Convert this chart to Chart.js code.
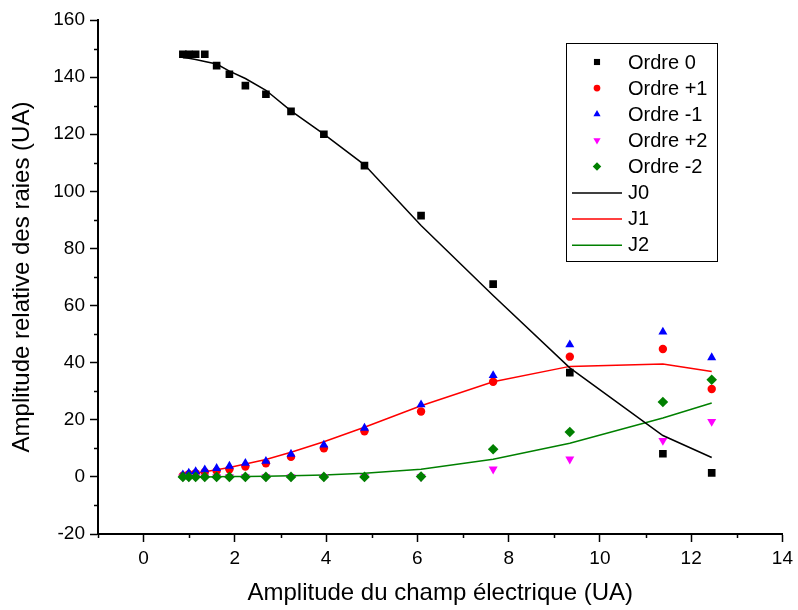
<!DOCTYPE html>
<html>
<head>
<meta charset="utf-8">
<script src="https://cdn.jsdelivr.net/npm/chart.js@4.4.1/dist/chart.umd.min.js"></script>
<style>
  html, body { margin: 0; padding: 0; background: #fff; }
</style>
</head>
<body>
<canvas id="chart" width="798" height="610"></canvas>
<script>
// field amplitude (x) shared by all series
const fieldAmp = [0.86, 0.99, 1.14, 1.34, 1.60, 1.88, 2.23, 2.68, 3.23, 3.95, 4.84, 6.08, 7.66, 9.34, 11.38, 12.45];

// measured line amplitudes
const order0  = [148, 148, 148, 148, 144, 141, 137, 134, 128, 120, 109, 91.5, 67.5, 36.5, 8.1, 1.4];
const orderP1 = [0.4, 0.9, 1.3, 1.7, 2.1, 2.7, 3.6, 4.8, 7.0, 10.0, 16.0, 22.9, 33.3, 42.1, 44.8, 30.8];
const orderM1 = [0.8, 1.4, 1.9, 2.5, 3.0, 3.8, 4.8, 5.5, 8.0, 11.2, 17.1, 25.3, 35.5, 46.3, 50.8, 41.8];
const orderP2 = [0, 0, 0, 0, 0, 0, 0, 0, 0, 0, 0, 0, 2.7, 6.2, 12.7, 19.4];
const orderM2 = [0, 0, 0, 0, 0, 0, 0, 0, 0, 0, 0, 0.1, 9.7, 15.7, 26.2, 34.0];

// fitted Bessel curves
const j0 = [146.8, 146.6, 146.2, 145.5, 144.6, 142.1, 139.5, 135.4, 128.2, 120.0, 109.3, 88.0, 63.5, 38.2, 14.5, 6.8];
const j1 = [0.6, 0.9, 1.3, 1.8, 2.5, 3.3, 4.5, 6.1, 8.6, 12.3, 17.4, 24.9, 33.3, 38.7, 39.5, 36.9];
const j2 = [0, 0, 0, 0, 0.05, 0.1, 0.15, 0.25, 0.4, 0.7, 1.3, 2.7, 6.2, 11.8, 20.6, 25.9];

const xTicks = { min: -1, max: 14, step: 1, major: 2 };
const yTicks = { min: -20, max: 160, step: 10, major: 20 };

const FONT = "'Liberation Sans', Arial, sans-serif";

const toPoints = ys => ys.map((y, i) => ({ x: fieldAmp[i], y: y }));

function markerSet(label, values, color, style, radius, rotation, order) {
  return {
    label: label,
    data: toPoints(values),
    showLine: false,
    pointStyle: style,
    pointRotation: rotation,
    pointRadius: radius,
    pointHoverRadius: radius,
    pointBackgroundColor: color,
    pointBorderColor: color,
    pointBorderWidth: 0,
    backgroundColor: color,
    borderColor: color,
    order: order
  };
}

function curveSet(label, values, color) {
  return {
    label: label,
    data: toPoints(values),
    showLine: true,
    borderColor: color,
    backgroundColor: color,
    borderWidth: 1.5,
    pointRadius: 0,
    tension: 0,
    fill: false,
    order: 10
  };
}

const datasets = [
  markerSet('Ordre 0', order0, '#000000', 'rect', 5.4, 0, 5),
  markerSet('Ordre +1', orderP1, '#ff0000', 'circle', 4.2, 0, 4),
  markerSet('Ordre -1', orderM1, '#0000ff', 'triangle', 5.2, 0, 3),
  markerSet('Ordre +2', orderP2, '#ff00ff', 'triangle', 5.2, 180, 2),
  markerSet('Ordre -2', orderM2, '#008000', 'rectRot', 5.3, 0, 1),
  curveSet('J0', j0, '#000000'),
  curveSet('J1', j1, '#ff0000'),
  curveSet('J2', j2, '#008000')
];

// minor tick marks (short, no label) drawn after the axes
const minorTicks = {
  id: 'minorTicks',
  afterDraw(chart) {
    const ctx = chart.ctx;
    const xs = chart.scales.x, ys = chart.scales.y;
    ctx.save();
    ctx.strokeStyle = '#000';
    ctx.lineWidth = 1.5;
    ctx.beginPath();
    for (let v = xTicks.min; v <= xTicks.max; v += xTicks.step) {
      if (v % xTicks.major === 0) continue;
      const px = Math.round(xs.getPixelForValue(v)) + 0.5;
      ctx.moveTo(px, xs.top);
      ctx.lineTo(px, xs.top + 4);
    }
    for (let v = yTicks.min; v <= yTicks.max; v += yTicks.step) {
      if (v % yTicks.major === 0) continue;
      const py = Math.round(ys.getPixelForValue(v)) + 0.5;
      ctx.moveTo(ys.right, py);
      ctx.lineTo(ys.right - 4, py);
    }
    ctx.stroke();
    ctx.restore();
  }
};

function drawMarker(ctx, ds, x, y) {
  const r = ds.pointRadius;
  ctx.fillStyle = ds.pointBackgroundColor;
  ctx.beginPath();
  if (ds.pointStyle === 'rect') {
    const s = r * Math.SQRT1_2;
    ctx.rect(x - s, y - s, 2 * s, 2 * s);
  } else if (ds.pointStyle === 'circle') {
    ctx.arc(x, y, r, 0, Math.PI * 2);
  } else if (ds.pointStyle === 'rectRot') {
    ctx.moveTo(x, y - r); ctx.lineTo(x + r, y); ctx.lineTo(x, y + r); ctx.lineTo(x - r, y);
  } else if (ds.pointStyle === 'triangle') {
    const dir = ds.pointRotation === 180 ? -1 : 1;
    const h = r * Math.sqrt(3) / 2;
    ctx.moveTo(x, y - dir * r);
    ctx.lineTo(x + h, y + dir * r / 2);
    ctx.lineTo(x - h, y + dir * r / 2);
  }
  ctx.closePath();
  ctx.fill();
}

// boxed legend in the upper right, Origin style
const boxLegend = {
  id: 'boxLegend',
  afterDraw(chart) {
    const ctx = chart.ctx;
    const left = 566, top = 43, width = 151, height = 218;
    const rowH = 26.1, firstRow = 62;
    ctx.save();
    ctx.strokeStyle = '#000';
    ctx.lineWidth = 1;
    ctx.strokeRect(left + 0.5, top + 0.5, width, height);
    ctx.font = '20px ' + FONT;
    ctx.textBaseline = 'middle';
    ctx.textAlign = 'left';
    chart.data.datasets.forEach((ds, i) => {
      const y = firstRow + i * rowH;
      if (ds.showLine) {
        ctx.strokeStyle = ds.borderColor;
        ctx.lineWidth = 1.5;
        ctx.beginPath();
        ctx.moveTo(572, y + 0.5);
        ctx.lineTo(622, y + 0.5);
        ctx.stroke();
      } else {
        drawMarker(ctx, Object.assign({}, ds, { pointRadius: ds.pointRadius * 0.8 }), 597, y);
      }
      ctx.fillStyle = '#000';
      ctx.fillText(ds.label, 628, y + 1);
    });
    ctx.restore();
  }
};

function majorTickColor(major) {
  return c => (c.tick && c.tick.value % major === 0) ? '#000' : 'rgba(0,0,0,0)';
}

new Chart(document.getElementById('chart'), {
  type: 'scatter',
  data: { datasets: datasets },
  plugins: [minorTicks, boxLegend],
  options: {
    responsive: false,
    animation: false,
    layout: { padding: { top: 20, right: 7, left: 0, bottom: 0 } },
    plugins: {
      legend: { display: false },
      tooltip: { enabled: false }
    },
    scales: {
      x: {
        type: 'linear',
        min: xTicks.min,
        max: xTicks.max,
        afterFit: s => { s.height = 76; },
        border: { display: true, color: '#000', width: 2 },
        grid: {
          drawOnChartArea: false,
          drawTicks: true,
          tickLength: 8,
          tickWidth: 1.5,
          tickColor: majorTickColor(xTicks.major)
        },
        ticks: {
          stepSize: xTicks.step,
          autoSkip: false,
          maxRotation: 0,
          color: '#000',
          padding: 5,
          font: { family: FONT, size: 19 },
          callback: v => (v % xTicks.major === 0 ? v : '')
        },
        title: {
          display: true,
          text: 'Amplitude du champ électrique (UA)',
          color: '#000',
          font: { family: FONT, size: 24 },
          padding: { top: 0, bottom: 2 }
        }
      },
      y: {
        type: 'linear',
        min: yTicks.min,
        max: yTicks.max,
        afterFit: s => { s.width = 98; },
        border: { display: true, color: '#000', width: 2 },
        grid: {
          drawOnChartArea: false,
          drawTicks: true,
          tickLength: 8,
          tickWidth: 1.5,
          tickColor: majorTickColor(yTicks.major)
        },
        ticks: {
          stepSize: yTicks.step,
          autoSkip: false,
          color: '#000',
          padding: 5,
          font: { family: FONT, size: 19 },
          callback: v => (v % yTicks.major === 0 ? v : '')
        },
        title: {
          display: true,
          text: 'Amplitude relative des raies (UA)',
          color: '#000',
          font: { family: FONT, size: 24 },
          padding: { top: 8, bottom: 0 }
        }
      }
    }
  }
});
</script>
</body>
</html>
